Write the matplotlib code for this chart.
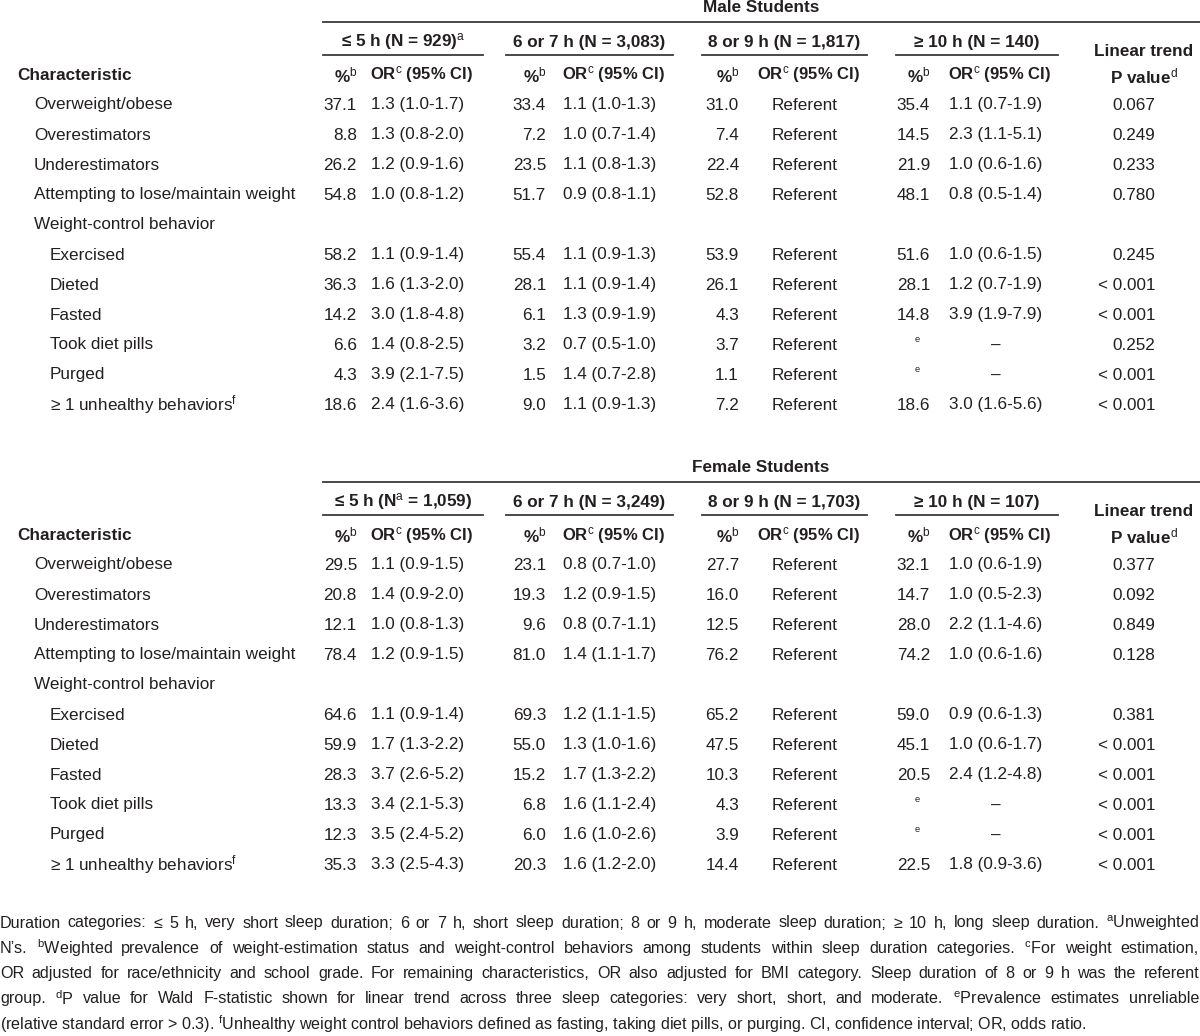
import matplotlib
matplotlib.use("Agg")
import matplotlib.pyplot as plt
from matplotlib import font_manager

names = {f.name for f in font_manager.fontManager.ttflist}
FONT = "Liberation Sans Narrow" if "Liberation Sans Narrow" in names else "Liberation Sans"
plt.rcParams['font.family'] = [FONT, 'DejaVu Sans']
plt.rcParams['mathtext.fontset'] = 'custom'
plt.rcParams['mathtext.rm'] = FONT
plt.rcParams['mathtext.it'] = FONT + ':italic'
plt.rcParams['mathtext.bf'] = FONT + ':bold'

# ---------------- data ----------------
row_labels = ["Overweight/obese", "Overestimators", "Underestimators",
              "Attempting to lose/maintain weight", "Weight-control behavior",
              "Exercised", "Dieted", "Fasted", "Took diet pills", "Purged",
              "≥ 1 unhealthy behaviors$^{\\mathrm{f}}$"]
row_indent = [1, 1, 1, 1, 1, 2, 2, 2, 2, 2, 2]

male_groups = ["≤ 5 h (N = 929)$^{\\mathrm{a}}$", "6 or 7 h (N = 3,083)",
               "8 or 9 h (N = 1,817)", "≥ 10 h (N = 140)"]
female_groups = ["≤ 5 h (N$^{\\mathrm{a}}$ = 1,059)", "6 or 7 h (N = 3,249)",
                 "8 or 9 h (N = 1,703)", "≥ 10 h (N = 107)"]

# None = header row (no values); "e" = unreliable estimate
male_pct_5 = [37.1, 8.8, 26.2, 54.8, None, 58.2, 36.3, 14.2, 6.6, 4.3, 18.6]
male_or_5 = ["1.3 (1.0-1.7)", "1.3 (0.8-2.0)", "1.2 (0.9-1.6)", "1.0 (0.8-1.2)", None,
             "1.1 (0.9-1.4)", "1.6 (1.3-2.0)", "3.0 (1.8-4.8)", "1.4 (0.8-2.5)",
             "3.9 (2.1-7.5)", "2.4 (1.6-3.6)"]
male_pct_67 = [33.4, 7.2, 23.5, 51.7, None, 55.4, 28.1, 6.1, 3.2, 1.5, 9.0]
male_or_67 = ["1.1 (1.0-1.3)", "1.0 (0.7-1.4)", "1.1 (0.8-1.3)", "0.9 (0.8-1.1)", None,
              "1.1 (0.9-1.3)", "1.1 (0.9-1.4)", "1.3 (0.9-1.9)", "0.7 (0.5-1.0)",
              "1.4 (0.7-2.8)", "1.1 (0.9-1.3)"]
male_pct_89 = [31.0, 7.4, 22.4, 52.8, None, 53.9, 26.1, 4.3, 3.7, 1.1, 7.2]
male_pct_10 = [35.4, 14.5, 21.9, 48.1, None, 51.6, 28.1, 14.8, "e", "e", 18.6]
male_or_10 = ["1.1 (0.7-1.9)", "2.3 (1.1-5.1)", "1.0 (0.6-1.6)", "0.8 (0.5-1.4)", None,
              "1.0 (0.6-1.5)", "1.2 (0.7-1.9)", "3.9 (1.9-7.9)", "–", "–", "3.0 (1.6-5.6)"]
male_p = ["0.067", "0.249", "0.233", "0.780", None, "0.245", "< 0.001", "< 0.001",
          "0.252", "< 0.001", "< 0.001"]

female_pct_5 = [29.5, 20.8, 12.1, 78.4, None, 64.6, 59.9, 28.3, 13.3, 12.3, 35.3]
female_or_5 = ["1.1 (0.9-1.5)", "1.4 (0.9-2.0)", "1.0 (0.8-1.3)", "1.2 (0.9-1.5)", None,
               "1.1 (0.9-1.4)", "1.7 (1.3-2.2)", "3.7 (2.6-5.2)", "3.4 (2.1-5.3)",
               "3.5 (2.4-5.2)", "3.3 (2.5-4.3)"]
female_pct_67 = [23.1, 19.3, 9.6, 81.0, None, 69.3, 55.0, 15.2, 6.8, 6.0, 20.3]
female_or_67 = ["0.8 (0.7-1.0)", "1.2 (0.9-1.5)", "0.8 (0.7-1.1)", "1.4 (1.1-1.7)", None,
                "1.2 (1.1-1.5)", "1.3 (1.0-1.6)", "1.7 (1.3-2.2)", "1.6 (1.1-2.4)",
                "1.6 (1.0-2.6)", "1.6 (1.2-2.0)"]
female_pct_89 = [27.7, 16.0, 12.5, 76.2, None, 65.2, 47.5, 10.3, 4.3, 3.9, 14.4]
female_pct_10 = [32.1, 14.7, 28.0, 74.2, None, 59.0, 45.1, 20.5, "e", "e", 22.5]
female_or_10 = ["1.0 (0.6-1.9)", "1.0 (0.5-2.3)", "2.2 (1.1-4.6)", "1.0 (0.6-1.6)", None,
                "0.9 (0.6-1.3)", "1.0 (0.6-1.7)", "2.4 (1.2-4.8)", "–", "–", "1.8 (0.9-3.6)"]
female_p = ["0.377", "0.092", "0.849", "0.128", None, "0.381", "< 0.001", "< 0.001",
            "< 0.001", "< 0.001", "< 0.001"]

footnote_lines = [
    "Duration categories: ≤ 5 h, very short sleep duration; 6 or 7 h, short sleep duration; 8 or 9 h, moderate sleep duration; ≥ 10 h, long sleep duration. $^{\\mathrm{a}}$Unweighted",
    "N’s. $^{\\mathrm{b}}$Weighted prevalence of weight-estimation status and weight-control behaviors among students within sleep duration categories. $^{\\mathrm{c}}$For weight estimation,",
    "OR adjusted for race/ethnicity and school grade. For remaining characteristics, OR also adjusted for BMI category. Sleep duration of 8 or 9 h was the referent",
    "group. $^{\\mathrm{d}}$P value for Wald F-statistic shown for linear trend across three sleep categories: very short, short, and moderate. $^{\\mathrm{e}}$Prevalence estimates unreliable",
    "(relative standard error > 0.3). $^{\\mathrm{f}}$Unhealthy weight control behaviors defined as fasting, taking diet pills, or purging. CI, confidence interval; OR, odds ratio.",
]

# ---------------- drawing ----------------
TXT = "#231f20"
LINE = "#3a3a3a"
FS = 12.3
W, H = 1200, 1036
fig = plt.figure(figsize=(12, 10.36), dpi=100)
ax = fig.add_axes([0, 0, 1, 1])
ax.set_xlim(0, W)
ax.set_ylim(H, 0)
ax.axis("off")

group_spans = [(323, 483), (506, 673), (702, 867), (896, 1058)]
pct_right = [357, 546, 739, 930]
or_center = [418, 610, 805, 996]
p_right = 1155
p_center = 1144


def t(x, y, s, ha="center", weight="normal", size=FS, **kw):
    return ax.text(x, y, s, ha=ha, va="center", fontsize=size, color=TXT,
                   fontweight=weight, **kw)


def panel(y0, title, groups, pcts, ors, pvals):
    t(761, y0, title, weight="bold")
    ax.plot([323, 1200], [y0 + 15, y0 + 15], color=LINE, lw=1.3)
    for (a, b), g in zip(group_spans, groups):
        t((a + b) / 2, y0 + 35, g, weight="bold")
        ax.plot([a, b], [y0 + 48, y0 + 48], color=LINE, lw=1.3)
    t(p_center, y0 + 45, "Linear trend", weight="bold")
    t(p_center, y0 + 69, "P value$^{\\mathrm{d}}$", weight="bold")
    t(17, y0 + 68, "Characteristic", ha="left", weight="bold")
    for i in range(4):
        t(pct_right[i], y0 + 68, "%$^{\\mathrm{b}}$", ha="right", weight="bold")
        t(or_center[i] + 3, y0 + 68, "OR$^{\\mathrm{c}}$ (95% CI)", weight="bold",
          size=FS - 0.3)
    for r, lab in enumerate(row_labels):
        y = y0 + 98 + 30 * r
        t(17 + 17 * row_indent[r] - (1 if row_indent[r] == 2 else 0), y, lab, ha="left")
        if pvals[r] is None:
            continue
        for i in range(4):
            pv = pcts[i][r]
            if pv == "e":
                t(pct_right[i] - 13, y - 5, "e", ha="center", size=FS * 0.55)
            else:
                t(pct_right[i], y, f"{pv:.1f}", ha="right")
            t(or_center[i], y, ors[i][r] if ors[i] is not None else "Referent")
        t(p_right, y, pvals[r], ha="right")


panel(7, "Male Students", male_groups,
      [male_pct_5, male_pct_67, male_pct_89, male_pct_10],
      [male_or_5, male_or_67, None, male_or_10], male_p)
panel(467, "Female Students", female_groups,
      [female_pct_5, female_pct_67, female_pct_89, female_pct_10],
      [female_or_5, female_or_67, None, female_or_10], female_p)

# footnotes, justified
FN = 11.6
renderer = fig.canvas.get_renderer()
x0, x1 = 0, 1199
for k, line in enumerate(footnote_lines):
    y = 923 + 25.2 * k
    if k == len(footnote_lines) - 1:
        t(x0, y, line, ha="left", size=FN)
        continue
    words = line.split(" ")
    arts = [t(0, y, w, ha="left", size=FN) for w in words]
    widths = [a.get_window_extent(renderer).width for a in arts]
    gap = (x1 - x0 - sum(widths)) / (len(words) - 1)
    x = x0
    for a, w in zip(arts, widths):
        a.set_x(x)
        x += w + gap

fig.savefig("out.png", dpi=100, facecolor="white")
